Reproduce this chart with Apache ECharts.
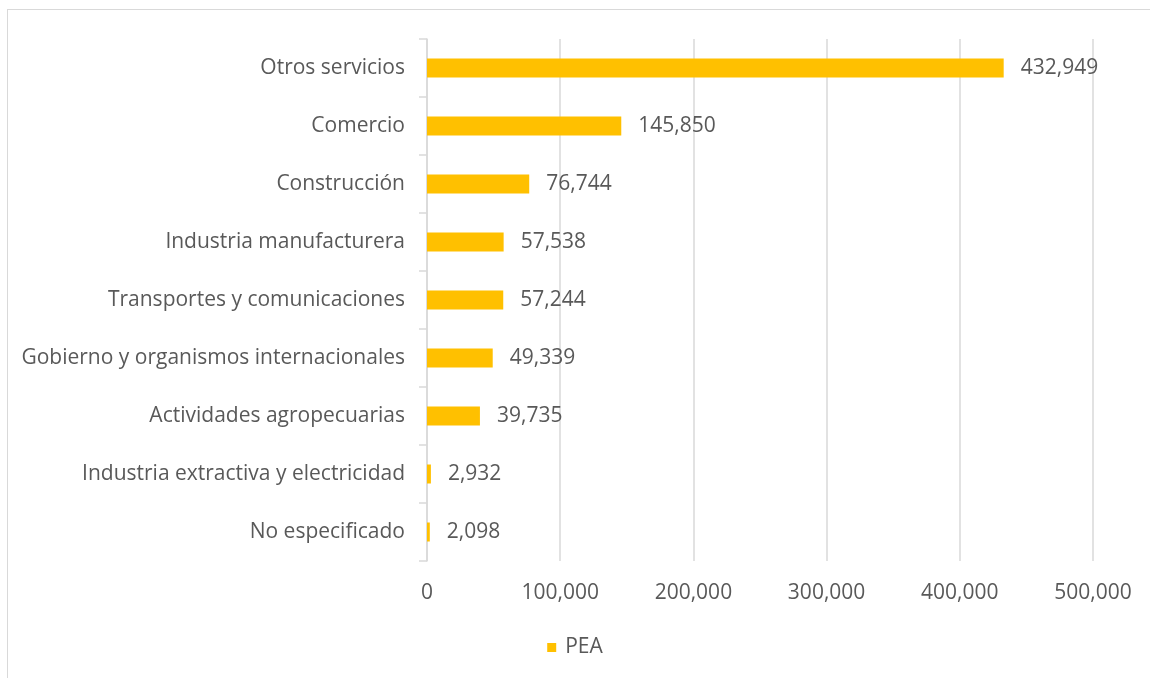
<!DOCTYPE html>
<html>
<head>
<meta charset="utf-8">
<script src="https://cdn.jsdelivr.net/npm/echarts@6/dist/echarts.min.js"></script>
<style>
  html, body { margin: 0; padding: 0; background: #fff; }
  #frame { position: absolute; left: 7px; top: 9px; width: 1160px; height: 690px; border: 1px solid #d9d9d9; box-sizing: border-box; }
  #chart { position: absolute; left: 0; top: 0; width: 1150px; height: 678px; }
</style>
</head>
<body>
<div id="frame"></div>
<div id="chart"></div>
<script>
// Sectores de actividad y población económicamente activa
const categories = [
  'Otros servicios',
  'Comercio',
  'Construcción',
  'Industria manufacturera',
  'Transportes y comunicaciones',
  'Gobierno y organismos internacionales',
  'Actividades agropecuarias',
  'Industria extractiva y electricidad',
  'No especificado'
];
const peaValues = [432949, 145850, 76744, 57538, 57244, 49339, 39735, 2932, 2098];
const seriesName = 'PEA';

const FONT = '"Open Sans", "Liberation Sans", sans-serif';
const TEXT = '#595959';
const GRID = '#d9d9d9';
const SIZE = 21;
const fmt = v => v.toLocaleString('en-US');

const chart = echarts.init(document.getElementById('chart'), null, { renderer: 'canvas' });
chart.setOption({
  animation: false,
  grid: { left: 427, right: 57, top: 39, bottom: 117, containLabel: false },
  legend: {
    data: [seriesName],
    top: 632,
    left: 'center',
    itemWidth: 9,
    itemHeight: 9,
    icon: 'rect',
    textStyle: { color: TEXT, fontFamily: FONT, fontSize: SIZE, padding: [0, 0, 0, 4] }
  },
  xAxis: {
    type: 'value',
    min: 0,
    max: 500000,
    interval: 100000,
    axisLine: { show: false },
    axisTick: { show: false },
    splitLine: { lineStyle: { color: GRID, width: 1.5 } },
    axisLabel: { color: TEXT, fontFamily: FONT, fontSize: SIZE, margin: 22, formatter: fmt }
  },
  yAxis: {
    type: 'category',
    inverse: true,
    data: categories,
    axisLine: { lineStyle: { color: GRID, width: 1.5 } },
    axisTick: { show: true, length: 8, lineStyle: { color: GRID, width: 1.5 } },
    axisLabel: { color: TEXT, fontFamily: FONT, fontSize: SIZE, margin: 22, padding: [3, 0, 0, 0] }
  },
  series: [{
    name: seriesName,
    type: 'bar',
    data: peaValues,
    barWidth: 19,
    itemStyle: { color: '#ffc000' },
    label: {
      show: true,
      position: 'right',
      distance: 17,
      color: TEXT,
      fontFamily: FONT,
      fontSize: SIZE,
      padding: [3, 0, 0, 0],
      formatter: p => fmt(p.value)
    }
  }]
});
</script>
</body>
</html>
